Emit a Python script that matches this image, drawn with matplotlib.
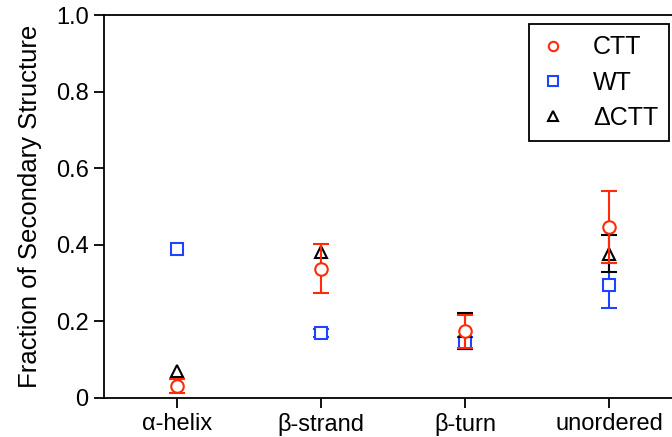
import matplotlib.pyplot as plt
import numpy as np

plt.rcParams['font.family'] = ['Liberation Sans', 'DejaVu Sans']

categories = ['\u03b1-helix', '\u03b2-strand', '\u03b2-turn', 'unordered']

nan = np.nan
ctt = [0.032, 0.337, 0.174, 0.447]
ctt_err = [0.018, 0.064, 0.043, 0.094]

wt = [0.388, 0.170, 0.143, 0.294]
wt_err = [nan, 0.010, 0.015, 0.058]

dctt = [0.071, 0.382, 0.175, 0.377]
dctt_err = [nan, nan, 0.048, 0.049]

red = '#ff2a0a'
blue = '#1f44ff'

fig = plt.figure(figsize=(6.72, 4.37), dpi=100)
# axes run past the right edge of the figure on purpose
ax = fig.add_axes([104 / 672, 1 - 398 / 437, 577 / 672, 383 / 437])

x = np.arange(len(categories))
common = dict(ls='none', ms=9, mew=1.5, mfc='white', elinewidth=1.5,
              capsize=6, capthick=1.5)

ax.errorbar(x, wt, yerr=wt_err, marker='s', color=blue, mec=blue,
            label='WT', zorder=3, **common)
ax.errorbar(x, dctt, yerr=dctt_err, marker='^', color='black', mec='black',
            label='\u0394CTT', zorder=4, **common)
ax.errorbar(x, ctt, yerr=ctt_err, marker='o', color=red, mec=red,
            label='CTT', zorder=5, **common)

ax.set_xlim(-0.505, 3.5)
ax.set_ylim(0, 1.0)
ax.set_xticks(x)
ax.set_xticklabels(categories, fontsize=17)
ax.set_yticks([0, 0.2, 0.4, 0.6, 0.8, 1.0])
ax.set_yticklabels(['0', '0.2', '0.4', '0.6', '0.8', '1.0'], fontsize=17)
ax.tick_params(direction='out', length=7, width=1.3, pad=4)
for sp in ax.spines.values():
    sp.set_linewidth(1.3)
ax.set_ylabel('Fraction of Secondary Structure', fontsize=18.5, labelpad=10)

handles, labels = ax.get_legend_handles_labels()
order = [2, 0, 1]
handles = [h[0] for h in handles]
leg = ax.legend([handles[i] for i in order], [labels[i] for i in order],
                loc='upper left', bbox_to_anchor=(529 / 672, 1 - 24 / 437),
                bbox_transform=fig.transFigure, fontsize=18, markerscale=0.75,
                fancybox=False, framealpha=1, edgecolor='black',
                handlelength=1.0, handletextpad=1.1, labelspacing=0.45,
                borderpad=0.45, borderaxespad=0)
leg.get_frame().set_linewidth(1.3)

fig.savefig('out.png', dpi=100)
